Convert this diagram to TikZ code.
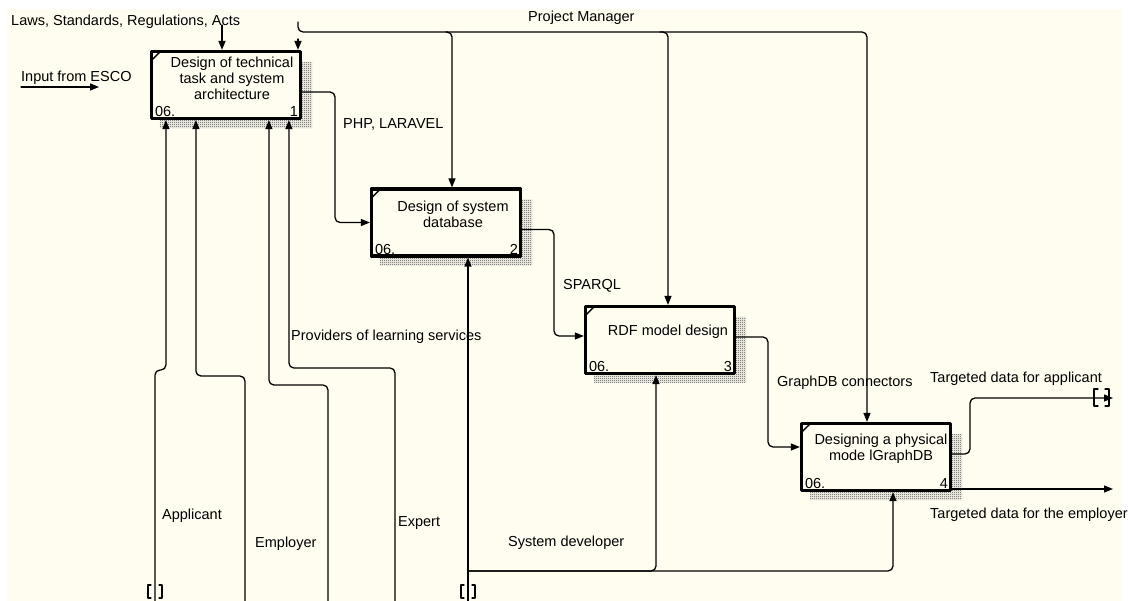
\documentclass[tikz,border=0pt]{standalone}
\usepackage{fontspec}
\setmainfont{Liberation Sans}
\usetikzlibrary{calc,arrows.meta,patterns}
\definecolor{paper}{RGB}{255,253,240}
\pgfdeclarepatternformonly{checker}{\pgfqpoint{0pt}{0pt}}{\pgfqpoint{2pt}{2pt}}{\pgfqpoint{2pt}{2pt}}{%
  \pgfpathrectangle{\pgfqpoint{0pt}{0pt}}{\pgfqpoint{1pt}{1pt}}%
  \pgfpathrectangle{\pgfqpoint{1pt}{1pt}}{\pgfqpoint{1pt}{1pt}}%
  \pgfusepath{fill}}

\begin{document}
\begin{tikzpicture}[x=1pt, y=-1pt, >={Triangle[length=9pt,width=7pt]},
  font=\fontsize{14.5}{16}\selectfont, line join=round, line cap=round,
  idef/.style={draw, line width=3.2pt, fill=paper, minimum width=149pt, minimum height=67pt, inner sep=0pt},
  boxtxt/.style={align=center, inner sep=0pt},
  lbl/.style={inner sep=0pt, anchor=west},
  flow/.style={->, line width=1.3pt, rounded corners=5pt},
  tunnel/.style={line width=1.2pt, rounded corners=0pt},
  hatchshadow/.style={pattern=checker, pattern color=black!75}]
        \useasboundingbox (0,0) rectangle (1128,601);
        \clip (0,0) rectangle (1128,601);
        \fill[white] (0,0) rectangle (1128,601);
        \fill[paper] (7,9) rectangle (1122,601);

        \node[idef] (b1) at (226,85) {};
        \node[idef] (b2) at (446,222.5) {};
        \node[idef] (b3) at (660,340) {};
        \node[idef] (b4) at (876,457) {};
        \foreach \b in {b1,b2,b3,b4}{
          \fill[hatchshadow] ($(\b.north east)+(0,12)$) -- ++(10,0) |- ($(\b.south west)+(10,8)$) -- ++(0,-8) -- (\b.south east) -- cycle;
          \draw[line width=1.4pt] ($(\b.north west)+(2,10)$) -- ($(\b.north west)+(10,2)$);
          \node[lbl, anchor=south west] at ($(\b.south west)+(5,-3)$) {06.};
        }
        \node[boxtxt] (t1) at ($(b1.center)+(6,-7)$) {Design of technical\\task and system\\architecture};
        \node[boxtxt] (t2) at ($(b2.center)+(7,-8)$) {Design of system\\database};
        \node[boxtxt] (t3) at ($(b3.center)+(8,-8)$) {RDF model design};
        \node[boxtxt] (t4) at ($(b4.center)+(5,-8)$) {Designing a physical\\mode lGraphDB};
        \node[lbl, anchor=south east] at ($(b1.south east)+(-4,-3)$) {1};
        \node[lbl, anchor=south east] at ($(b2.south east)+(-4,-3)$) {2};
        \node[lbl, anchor=south east] at ($(b3.south east)+(-4,-3)$) {3};
        \node[lbl, anchor=south east] at ($(b4.south east)+(-4,-3)$) {4};

        \coordinate (lawsin) at (222,25);
        \coordinate (pm) at (298,22);
        \coordinate (pm1) at (298,39);
        \coordinate (pmline) at (0,32);
        \coordinate (pmr) at ($(b4.north)+(-9,0)$);
        \coordinate (esco) at (21,87);
        \coordinate (escoend) at (99,87);
        \coordinate (k12) at (335,0);
        \coordinate (k23) at (554,0);
        \coordinate (k34) at (768,0);
        \coordinate (k4) at (970,0);
        \coordinate (in3) at ($(b3.west)+(0,-4)$);
        \coordinate (in4) at ($(b4.west)+(0,-10)$);
        \coordinate (app) at (1113,398);
        \coordinate (emp) at (1113,489);
        \coordinate (appl) at (155,601);
        \coordinate (empl) at (245,601);
        \coordinate (prov) at (328,601);
        \coordinate (expt) at (395,601);
        \coordinate (sysd) at (468,601);
        \coordinate (sdj) at (468,571);

        \draw[flow] (lawsin) -- (lawsin |- b1.north);
        \draw[flow] (pm) |- (pmr |- pmline) -- (pmr);
        \draw[flow] (pm1) -- (pm1 |- b1.north);
        \draw[flow] (b2.north |- pmline) -| ($(b2.north)+(6,0)$);
        \draw[flow] (b3.north |- pmline) -| ($(b3.north)+(8,0)$);
        \draw[flow] (esco) -- (escoend);

        \draw[flow] ($(b1.east)+(0,7)$) -| (k12 |- b2.west) -- (b2.west);
        \draw[flow] ($(b2.east)+(0,7)$) -| (k23 |- in3) -- (in3);
        \draw[flow] ($(b3.east)+(0,-3)$) -| (k34 |- in4) -- (in4);
        \draw[flow] ($(b4.east)+(0,-3)$) -| (k4 |- app) -- (app);
        \draw[flow] ($(b4.east)+(0,32)$) -- (emp);
        \draw[tunnel] ($(app)+(-15,-9)$) -- ++(-4,0) -- ++(0,17) -- ++(4,0);
        \draw[tunnel] ($(app)+(-8,-9)$) -- ++(4,0) -- ++(0,17) -- ++(-4,0);

        \draw[flow] (appl) -- ++(0,-231) -| ($(b1.south west)+(16,0)$);
        \draw[flow] (empl) -- ++(0,-225) -| ($(b1.south west)+(46,0)$);
        \draw[flow] (prov) -- ++(0,-216) -| ($(b1.south west)+(119,0)$);
        \draw[flow] (expt) -- ++(0,-233) -| ($(b1.south west)+(139,0)$);
        \draw[flow] (sysd) -- ($(b2.south)+(22,0)$);
        \draw[flow] (sdj) -| ($(b3.south)+(-4,0)$);
        \draw[flow] (sdj) -| ($(b4.south)+(17,0)$);
        \draw[tunnel] ($(appl)+(-4,-16)$) -- ++(-3,0) -- ++(0,13) -- ++(3,0);
        \draw[tunnel] ($(appl)+(4,-16)$) -- ++(3,0) -- ++(0,13) -- ++(-3,0);
        \draw[tunnel] ($(sysd)+(-4,-16)$) -- ++(-3,0) -- ++(0,13) -- ++(3,0);
        \draw[tunnel] ($(sysd)+(4,-16)$) -- ++(3,0) -- ++(0,13) -- ++(-3,0);

        \node[lbl] (lawsl) at (11,22) {Laws, Standards, Regulations, Acts};
        \node[lbl] (pml) at (528,18) {Project Manager};
        \node[lbl] (escol) at (21,78) {Input from ESCO};
        \node[lbl] (phpl) at (343,124) {PHP, LARAVEL};
        \node[lbl] (sparl) at (563,286) {SPARQL};
        \node[lbl] (gdbl) at (777,383) {GraphDB connectors};
        \node[lbl] (tdal) at (930,379) {Targeted data for applicant};
        \node[lbl] (tdel) at (930,515) {Targeted data for the employer};
        \node[lbl] (provl) at (291,337) {Providers of learning services};
        \node[lbl] (appll) at (162,516) {Applicant};
        \node[lbl] (empll) at (255,544) {Employer};
        \node[lbl] (exptl) at (398,523) {Expert};
        \node[lbl] (sysdl) at (508,543) {System developer};
\end{tikzpicture}
\end{document}
